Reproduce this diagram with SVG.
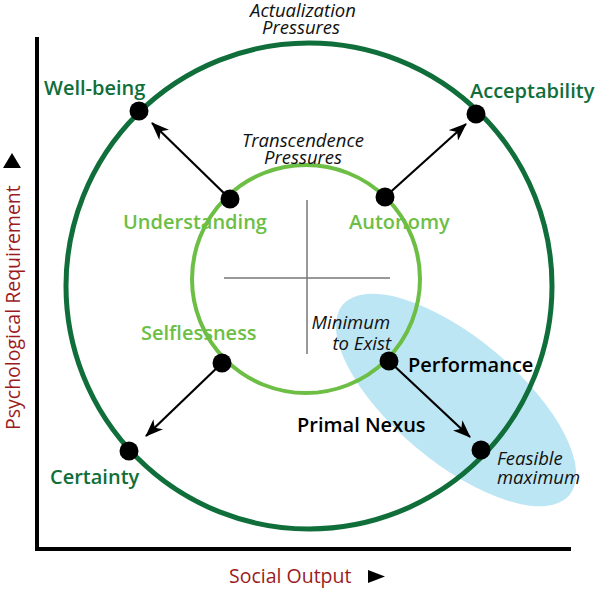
<svg xmlns="http://www.w3.org/2000/svg" width="596" height="589" viewBox="0 0 596 589">
<style>
text{font-family:"Open Sans","Noto Sans",sans-serif}
.lab{font-weight:600;font-size:20px}
.dg{fill:#0f6e3a}
.lg{fill:#6dbe45}
.bk{fill:#000}
.it{font-style:italic;font-size:18.5px;fill:#111}
.ax{fill:#9b1b1e;font-size:19.5px}
.dot{fill:#000}
.arr{stroke:#000;stroke-width:2.2;fill:none;marker-end:url(#ah)}
</style>
<defs>
<marker id="ah" viewBox="0 0 18 14" refX="17" refY="7" markerWidth="18" markerHeight="14" markerUnits="userSpaceOnUse" orient="auto">
<path d="M0,0 L18,7 L0,14 L5,7 z" fill="#000"/>
</marker>
</defs>
<g id="nexus-ellipse">
<ellipse cx="456" cy="400" rx="148" ry="62" transform="rotate(40 456 400)" fill="#bde6f5"/>
</g>
<g id="axes">
<line x1="37" y1="37" x2="37" y2="551" stroke="#000" stroke-width="4"/>
<line x1="35" y1="549" x2="571" y2="549" stroke="#000" stroke-width="4"/>
<text class="ax" x="229" y="583">Social Output</text>
<path d="M368,570 L385,576.5 L368,583 z" fill="#000"/>
<text class="ax" transform="translate(20,430) rotate(-90)">Psychological Requirement</text>
<path d="M3,168 L12,153 L21,168 z" fill="#000"/>
</g>
<g id="cross">
<line x1="307" y1="200" x2="307" y2="354" stroke="#777" stroke-width="1.5"/>
<line x1="224" y1="278" x2="390" y2="278" stroke="#777" stroke-width="1.5"/>
</g>
<g id="outer-circle">
<circle cx="309" cy="286" r="243" fill="none" stroke="#0f6e3a" stroke-width="5"/>
<text class="it" x="303" y="17" text-anchor="middle">Actualization</text>
<text class="it" x="301" y="34" text-anchor="middle">Pressures</text>
</g>
<g id="inner-circle">
<circle cx="306" cy="279" r="114" fill="none" stroke="#6dbe45" stroke-width="4"/>
<text class="it" x="303" y="147" text-anchor="middle">Transcendence</text>
<text class="it" x="303" y="164" text-anchor="middle">Pressures</text>
</g>
<g id="connectors">
<line class="arr" x1="230" y1="199" x2="152" y2="123"/>
<line class="arr" x1="385" y1="197" x2="466" y2="124"/>
<line class="arr" x1="222" y1="363" x2="146" y2="436"/>
<line class="arr" x1="389" y1="361" x2="470" y2="437"/>
</g>
<g id="well-being"><circle class="dot" cx="139" cy="111" r="9.5"/><text class="lab dg" x="44" y="95">Well-being</text></g>
<g id="acceptability"><circle class="dot" cx="476" cy="114" r="9.5"/><text class="lab dg" x="470" y="98">Acceptability</text></g>
<g id="understanding"><circle class="dot" cx="230" cy="199" r="9.5"/><text class="lab lg" x="123" y="229">Understanding</text></g>
<g id="autonomy"><circle class="dot" cx="385" cy="197" r="9.5"/><text class="lab lg" x="349" y="229">Autonomy</text></g>
<g id="selflessness"><circle class="dot" cx="222" cy="363" r="9.5"/><text class="lab lg" x="141" y="340">Selflessness</text></g>
<g id="performance"><circle class="dot" cx="389" cy="361" r="9.5"/><text class="lab bk" x="408" y="372">Performance</text>
<text class="it" x="390" y="329" text-anchor="end">Minimum</text><text class="it" x="391" y="350" text-anchor="end">to Exist</text></g>
<g id="primal-nexus"><text class="lab bk" x="297" y="432">Primal Nexus</text></g>
<g id="certainty"><circle class="dot" cx="129" cy="451" r="9.5"/><text class="lab dg" x="50" y="484">Certainty</text></g>
<g id="feasible-maximum"><circle class="dot" cx="481" cy="450" r="9.5"/><text class="it" x="497" y="465">Feasible</text><text class="it" x="497" y="484">maximum</text></g>
</svg>
